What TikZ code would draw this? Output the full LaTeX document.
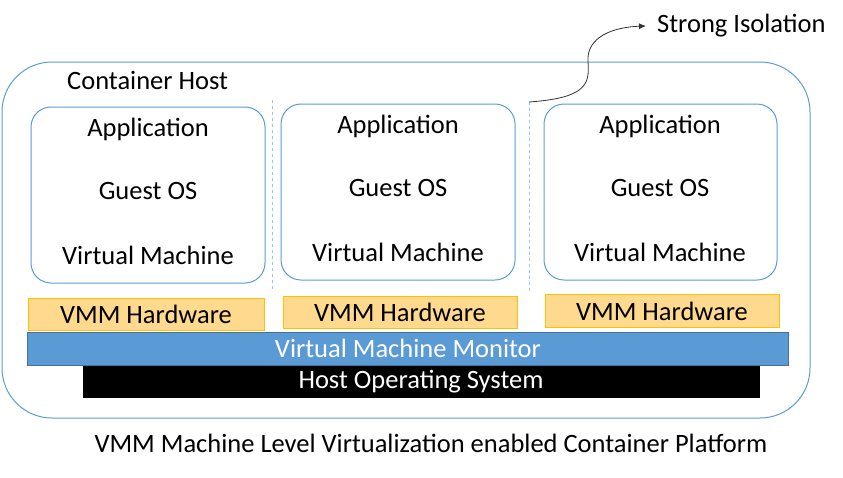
\documentclass[tikz,border=0pt]{standalone}
\usepackage{fontspec}
\setmainfont{Carlito}
\usetikzlibrary{arrows.meta}
\definecolor{cblue}{HTML}{5B9BD5}
\definecolor{cbluedark}{HTML}{41719C}
\definecolor{hwfill}{HTML}{FFD98E}
\definecolor{hwline}{HTML}{FFC000}
\begin{document}
\begin{tikzpicture}[x=1pt,y=-1pt,
  vmbox/.style={draw=cblue, line width=1pt, rounded corners=20pt},
  hwbox/.style={draw=hwline, fill=hwfill, line width=0.8pt},
  txt/.style={font=\fontsize{26.5}{30}\selectfont, inner sep=0pt},
  sep/.style={draw=cblue!60, dashed, line width=0.6pt}]
\useasboundingbox (0,0) rectangle (843,477);
% outer container
\draw[cblue, line width=1pt, rounded corners=50pt] (2,62) rectangle (810,418);
\node[txt, anchor=west] (ch) at (67,80) {Container Host};
% VM boxes
\draw[vmbox] (31,107) rectangle (265,283);
\draw[vmbox] (281,104) rectangle (515,280);
\draw[vmbox] (544,104) rectangle (777,280);
\node[txt] (a1) at (148,129) {Application};
\node[txt] (g1) at (148,191) {Guest OS};
\node[txt] (v1) at (148,255) {Virtual Machine};
\node[txt] (a2) at (398,126) {Application};
\node[txt] (g2) at (398,188) {Guest OS};
\node[txt] (v2) at (398,252) {Virtual Machine};
\node[txt] (a3) at (660,126) {Application};
\node[txt] (g3) at (660,188) {Guest OS};
\node[txt] (v3) at (660,252) {Virtual Machine};
% separators
\draw[sep] (272,100) -- (272,292);
\draw[sep] (529,102) -- (529,292);
% VMM hardware
\draw[hwbox] (28,298) rectangle (264,330);
\node[txt] (h1) at (146,314) {VMM Hardware};
\draw[hwbox] (283,296) rectangle (517,328);
\node[txt] (h2) at (400,312) {VMM Hardware};
\draw[hwbox] (545,294) rectangle (779,327);
\node[txt] (h3) at (662,311) {VMM Hardware};
% monitor
\draw[draw=cbluedark, fill=cblue, line width=0.8pt] (27,332) rectangle (788,365);
\node[txt, text=white] (vmm) at (408,348) {Virtual Machine Monitor};
% host os
\fill[black] (83,366) rectangle (760,398);
\node[txt, text=white] (hos) at (421,382) {Host Operating System};
% arrow
\coordinate (s) at (529,102);
\node[txt, anchor=west] (si) at (657,26) {Strong Isolation};
\draw[-{Latex[length=7pt,width=6pt]}, line width=0.8pt, black!80] (s) .. controls (585,98) and (590,85) .. (588,62) .. controls (586,36) and (615,27) .. ([xshift=-11pt]si.west);
% caption
\node[txt] (cap) at (431,443) {VMM Machine Level Virtualization enabled Container Platform};
\end{tikzpicture}
\end{document}
